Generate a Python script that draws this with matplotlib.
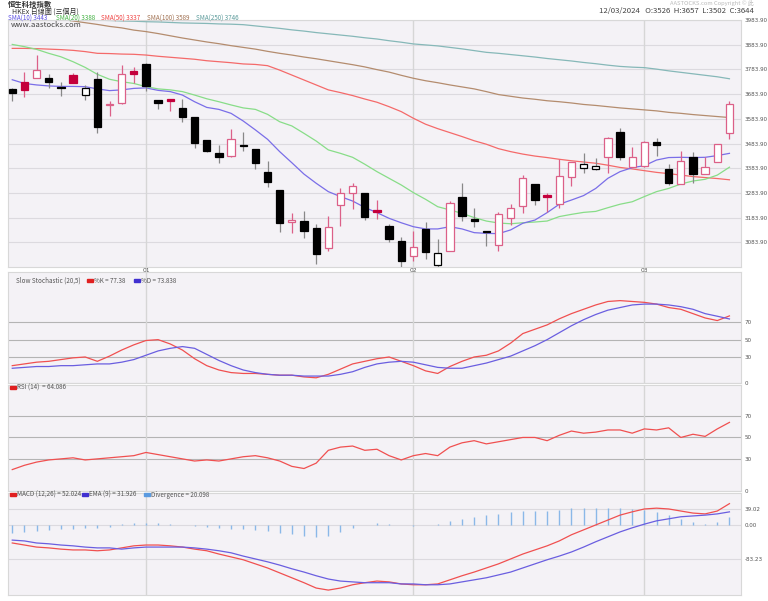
import numpy as np
import matplotlib
matplotlib.use("Agg")
import matplotlib.pyplot as plt
from matplotlib.patches import Rectangle

plt.rcParams['font.family'] = ['Noto Sans CJK TC', 'DejaVu Sans']

# daily OHLC, 13/12/2023 - 12/03/2024
opens = [3703, 3734, 3750, 3748, 3714, 3760, 3679, 3744, 3640, 3648,
         3779, 3804, 3659, 3665, 3626, 3590, 3498, 3444, 3433, 3476,
         3460, 3370, 3294, 3166, 3170, 3143, 3060, 3235, 3282, 3284,
         3213, 3150, 3089, 3029, 3136, 2992, 3049, 3269, 3180, 3128,
         3073, 3184, 3232, 3320, 3277, 3239, 3347, 3386, 3379, 3428,
         3529, 3390, 3394, 3490, 3381, 3319, 3429, 3360, 3408, 3526]
highs = [3710, 3772, 3842, 3764, 3733, 3770, 3719, 3772, 3655, 3802,
         3792, 3808, 3659, 3665, 3663, 3590, 3498, 3477, 3543, 3531,
         3460, 3413, 3294, 3201, 3211, 3157, 3192, 3302, 3323, 3284,
         3257, 3159, 3107, 3131, 3166, 3096, 3252, 3323, 3223, 3130,
         3205, 3240, 3358, 3320, 3285, 3420, 3410, 3445, 3427, 3509,
         3548, 3468, 3495, 3506, 3401, 3454, 3448, 3429, 3483, 3657]
lows = [3657, 3673, 3750, 3710, 3675, 3727, 3660, 3525, 3597, 3643,
        3728, 3697, 3622, 3617, 3572, 3467, 3451, 3406, 3429, 3455,
        3379, 3309, 3127, 3123, 3100, 2995, 3049, 3150, 3217, 3174,
        3178, 3085, 2985, 3010, 3015, 2985, 3049, 3169, 3147, 3070,
        3050, 3154, 3204, 3234, 3205, 3221, 3313, 3363, 3375, 3366,
        3418, 3390, 3387, 3432, 3316, 3319, 3323, 3360, 3408, 3502]
closes = [3688, 3700, 3780, 3732, 3710, 3728, 3709, 3549, 3643, 3764,
          3767, 3717, 3649, 3656, 3593, 3487, 3454, 3431, 3504, 3472,
          3406, 3328, 3162, 3174, 3131, 3035, 3147, 3282, 3313, 3186,
          3205, 3097, 3008, 3066, 3046, 3039, 3244, 3190, 3170, 3124,
          3197, 3221, 3343, 3254, 3267, 3352, 3410, 3400, 3394, 3505,
          3428, 3431, 3489, 3477, 3325, 3412, 3362, 3387, 3483, 3644]

sma10 = [3742, 3727, 3721, 3717, 3715, 3715, 3714, 3705, 3698, 3701,
         3707, 3709, 3699, 3694, 3680, 3653, 3630, 3622, 3606, 3575,
         3539, 3501, 3451, 3406, 3360, 3323, 3289, 3269, 3251, 3225,
         3204, 3181, 3163, 3147, 3138, 3138, 3147, 3138, 3123, 3120,
         3119, 3134, 3161, 3174, 3204, 3238, 3255, 3273, 3302, 3343,
         3370, 3386, 3394, 3417, 3427, 3428, 3427, 3428, 3435, 3444]
sma20 = [3885, 3876, 3865, 3849, 3835, 3815, 3792, 3764, 3744, 3734,
         3727, 3714, 3705, 3701, 3694, 3680, 3665, 3653, 3640, 3628,
         3622, 3602, 3572, 3555, 3525, 3494, 3458, 3444, 3428, 3400,
         3370, 3343, 3316, 3285, 3258, 3228, 3215, 3201, 3184, 3170,
         3162, 3159, 3163, 3166, 3170, 3188, 3197, 3205, 3209, 3224,
         3238, 3248, 3269, 3289, 3302, 3320, 3332, 3339, 3356, 3388]
sma50 = [3869, 3869, 3868, 3866, 3864, 3861, 3856, 3849, 3848, 3846,
         3845, 3842, 3837, 3833, 3829, 3825, 3819, 3815, 3811, 3806,
         3804, 3799, 3781, 3761, 3741, 3721, 3701, 3690, 3678, 3664,
         3651, 3633, 3613, 3586, 3562, 3544, 3528, 3512, 3495, 3481,
         3463, 3451, 3441, 3433, 3427, 3420, 3414, 3409, 3404, 3396,
         3387, 3381, 3374, 3367, 3362, 3356, 3350, 3346, 3342, 3337]
sma100 = [4017, 4009, 4001, 3993, 3987, 3980, 3973, 3966, 3958, 3952,
          3943, 3937, 3929, 3920, 3911, 3903, 3895, 3888, 3880, 3873,
          3866, 3857, 3849, 3842, 3834, 3827, 3819, 3811, 3803, 3794,
          3783, 3773, 3760, 3748, 3738, 3730, 3721, 3713, 3705, 3694,
          3682, 3675, 3668, 3663, 3657, 3653, 3648, 3642, 3638, 3633,
          3628, 3624, 3620, 3616, 3610, 3606, 3601, 3597, 3593, 3589]
sma250 = [3995, 3993, 3992, 3990, 3988, 3987, 3985, 3983, 3982, 3980,
          3979, 3977, 3976, 3974, 3972, 3971, 3970, 3968, 3967, 3965,
          3960, 3955, 3950, 3944, 3939, 3933, 3928, 3923, 3918, 3912,
          3907, 3900, 3894, 3887, 3883, 3879, 3873, 3867, 3860, 3853,
          3849, 3844, 3839, 3834, 3828, 3823, 3818, 3812, 3807, 3801,
          3796, 3793, 3791, 3785, 3778, 3772, 3766, 3760, 3754, 3746]

stoch_k = [20, 22, 24, 25, 27, 29, 30, 25, 31, 38,
           44, 49, 50, 45, 38, 28, 20, 15, 12, 11,
           11, 10, 9, 9, 7, 6, 10, 16, 22, 25,
           28, 30, 25, 20, 14, 11, 19, 25, 30, 32,
           37, 46, 57, 62, 67, 74, 80, 85, 90, 94,
           95, 94, 93, 91, 87, 85, 80, 75, 72, 77.38]
stoch_d = [17, 18, 19, 19, 20, 20, 21, 22, 22, 24,
           27, 32, 37, 40, 42, 40, 33, 26, 20, 15,
           12, 10, 9, 9, 8, 8, 8, 10, 13, 18,
           22, 24, 25, 24, 21, 18, 17, 17, 20, 23,
           27, 31, 37, 43, 50, 58, 66, 73, 79, 84,
           87, 90, 91, 91, 90, 88, 85, 80, 77, 73.84]
rsi = [20, 24, 27, 29, 30, 31, 29, 30, 31, 32,
       33, 36, 34, 32, 30, 28, 29, 28, 30, 32,
       33, 31, 28, 23, 21, 26, 38, 41, 42, 38,
       39, 33, 29, 33, 35, 33, 41, 45, 47, 44,
       46, 48, 50, 50, 47, 52, 56, 54, 55, 57,
       57, 54, 58, 57, 59, 50, 53, 51, 58, 64.09]
macd = [-44, -49, -54, -56, -59, -61, -61, -63, -61, -56,
        -51, -49, -49, -51, -54, -59, -63, -71, -78, -85,
        -95, -105, -117, -129, -141, -154, -159, -154, -146, -141,
        -137, -139, -144, -146, -146, -144, -134, -124, -115, -105,
        -95, -83, -71, -61, -51, -39, -24, -12, 0, 12,
        24, 32, 39, 41, 39, 34, 29, 27, 34, 52.02]
ema9 = [-37, -39, -44, -46, -49, -51, -54, -56, -56, -59,
        -56, -54, -54, -54, -54, -56, -59, -63, -68, -76,
        -83, -90, -98, -107, -115, -124, -132, -137, -139, -141,
        -141, -141, -144, -144, -146, -146, -144, -139, -134, -129,
        -122, -115, -105, -95, -85, -76, -66, -54, -41, -29,
        -17, -7, 2, 10, 15, 20, 22, 24, 27, 31.93]
diverg = [-20, -18, -15, -12, -10, -9, -8, -7, -5, 2,
          5, 5, 4, 2, 0, -3, -5, -8, -10, -10,
          -12, -15, -19, -22, -26, -30, -27, -17, -7, 0,
          4, 2, 0, -2, 0, 2, 10, 15, 19, 24,
          27, 32, 34, 34, 34, 37, 42, 42, 41, 41,
          41, 39, 37, 31, 24, 14, 7, 3, 7, 20.1]

month_idx = [11, 33, 52]
month_lbl = ['01', '02', '03']
price_ticks = [3083.9, 3183.9, 3283.9, 3383.9, 3483.9, 3583.9, 3683.9, 3783.9, 3883.9, 3983.9]

W, H = 768, 601
fig = plt.figure(figsize=(W / 100, H / 100), dpi=100)
fig.patch.set_facecolor('white')

def box(x0, y0, x1, y1):
    return fig.add_axes([x0 / W, 1 - y1 / H, (x1 - x0) / W, (y1 - y0) / H])

def ftext(x, y, s, **kw):
    fig.text(x / W, 1 - y / H, s, **kw)

bg = '#f4f2f6'
gridc = '#dcdadf'
lblc = '#555555'
n = len(closes)
xs = np.arange(n)
xlim = (-0.35, 59.95)

def style(ax, ticks, labels, strong=()):
    ax.set_facecolor(bg)
    ax.set_xlim(*xlim)
    ax.set_xticks([])
    ax.yaxis.tick_right()
    ax.set_yticks(ticks)
    ax.set_yticklabels(labels, fontsize=4.1, color=lblc, family='DejaVu Sans')
    ax.tick_params(axis='y', length=0, pad=2.5)
    for sp in ax.spines.values():
        sp.set_color('#d8d8d8')
        sp.set_linewidth(0.8)
    for t in ticks:
        c = '#b4b4b4' if t in strong else gridc
        ax.axhline(t, color=c, lw=0.8, zorder=0)
    for m in month_idx:
        ax.axvline(m, color='#d6d6d6', lw=1.0, zorder=0)

# main price panel
ax = box(8, 20, 741, 267)
style(ax, price_ticks, ['%.2f' % t for t in price_ticks])
ax.set_ylim(2983.9, 3983.9)
ax.plot(xs, sma250, color='#86b8b8', lw=0.9, zorder=2)
ax.plot(xs, sma100, color='#b48c6e', lw=0.9, zorder=2)
ax.plot(xs, sma50, color='#f46a6a', lw=0.9, zorder=2)
ax.plot(xs, sma20, color='#88dd88', lw=0.9, zorder=2)
ax.plot(xs, sma10, color='#7a6ee8', lw=0.9, zorder=2)

pink = '#dc6088'
crimson = '#c4003c'
for i in range(n):
    o, h, l, c = opens[i], highs[i], lows[i], closes[i]
    prev = closes[i - 1] if i > 0 else o
    col = pink if c >= prev else 'black'
    wick = '#888888' if col == 'black' else pink
    ax.vlines(i, l, h, color=wick, lw=0.9, zorder=3)
    lo = min(o, c)
    ht = max(abs(c - o), 3)
    if c >= o:
        ax.add_patch(Rectangle((i - 0.3, lo), 0.6, ht, facecolor='white',
                               edgecolor=col, lw=0.9, zorder=4))
    else:
        fc = crimson if c >= prev else 'black'
        ax.add_patch(Rectangle((i - 0.3, lo), 0.6, ht, facecolor=fc,
                               edgecolor=fc, lw=0.9, zorder=4))

ax.text(0.004, 0.995, 'www.aastocks.com', transform=ax.transAxes, fontsize=5.6,
        color='#444444', va='top', ha='left')

# stochastic
ax2 = box(8, 272, 741, 383)
style(ax2, [0, 30, 50, 70], ['0', '30', '50', '70'], strong=(30, 50, 70))
ax2.set_ylim(0, 128)
ax2.plot(xs, stoch_k, color='#f05050', lw=0.9)
ax2.plot(xs, stoch_d, color='#6a5ee0', lw=0.9)

# rsi
ax3 = box(8, 385, 741, 491)
style(ax3, [0, 30, 50, 70], ['0', '30', '50', '70'], strong=(30, 50, 70))
ax3.set_ylim(0, 99)
ax3.plot(xs, rsi, color='#f05050', lw=0.9)

# macd
ax4 = box(8, 493, 741, 595)
style(ax4, [-83.23, 0, 39.02], ['-83.23', '0.00', '39.02'])
ax4.set_ylim(-171, 78)
ax4.vlines(xs, 0, diverg, color='#8ab8e8', lw=1.0, zorder=2)
ax4.plot(xs, macd, color='#f05050', lw=0.9, zorder=3)
ax4.plot(xs, ema9, color='#6a5ee0', lw=0.9, zorder=3)

# month labels under the price panel
for m, s in zip(month_idx, month_lbl):
    px = 8 + (m - xlim[0]) / (xlim[1] - xlim[0]) * 733
    ftext(px, 270.5, s, fontsize=4.3, color=lblc, ha='center', va='center',
          family='DejaVu Sans', zorder=10)

# legends of lower panels
def key(x, y, color, s):
    fig.patches.append(Rectangle((x / W, 1 - (y + 1) / H), 6 / W, 3 / H,
                                 color=color, transform=fig.transFigure))
    ftext(x + 7, y, s, fontsize=4.5, color=lblc, va='center')

ftext(16, 281, 'Slow Stochastic (20,5)', fontsize=4.5, color=lblc, va='center')
key(87, 281, '#e02020', '%K = 77.38')
key(134, 281, '#4030d0', '%D = 73.838')
key(10, 388, '#e02020', 'RSI (14)  = 64.086')
key(10, 495, '#e02020', 'MACD (12,26) = 52.024')
key(82, 495, '#4030d0', 'EMA (9) = 31.926')
key(144, 495, '#5a9ae0', 'Divergence = 20.098')

# header
ftext(8, 4.5, '恒生科技指數', fontsize=5.3, color='#333333', va='center', fontweight='bold')
ftext(12, 11.5, 'HKEx 日線圖 (三個月)', fontsize=5.0, color='#333333', va='center')
legs = [('SMA(10) 3443', '#5a4ee0'), ('SMA(20) 3388', '#40b040'),
        ('SMA(50) 3337', '#f04040'), ('SMA(100) 3589', '#a07050'),
        ('SMA(250) 3746', '#5a9a9a')]
lx = [8, 56, 101, 147, 196]
for (s, c), x in zip(legs, lx):
    ftext(x, 18.5, s, fontsize=4.5, color=c, va='center')
ftext(754, 3, 'AASTOCKS.com Copyright © 此', fontsize=4.2, color='#bbbbbb',
      va='center', ha='right')
ftext(754, 11, '12/03/2024   O:3526  H:3657  L:3502  C:3644', fontsize=5.6,
      color='#444444', va='center', ha='right')

fig.savefig('out.png', dpi=100)
